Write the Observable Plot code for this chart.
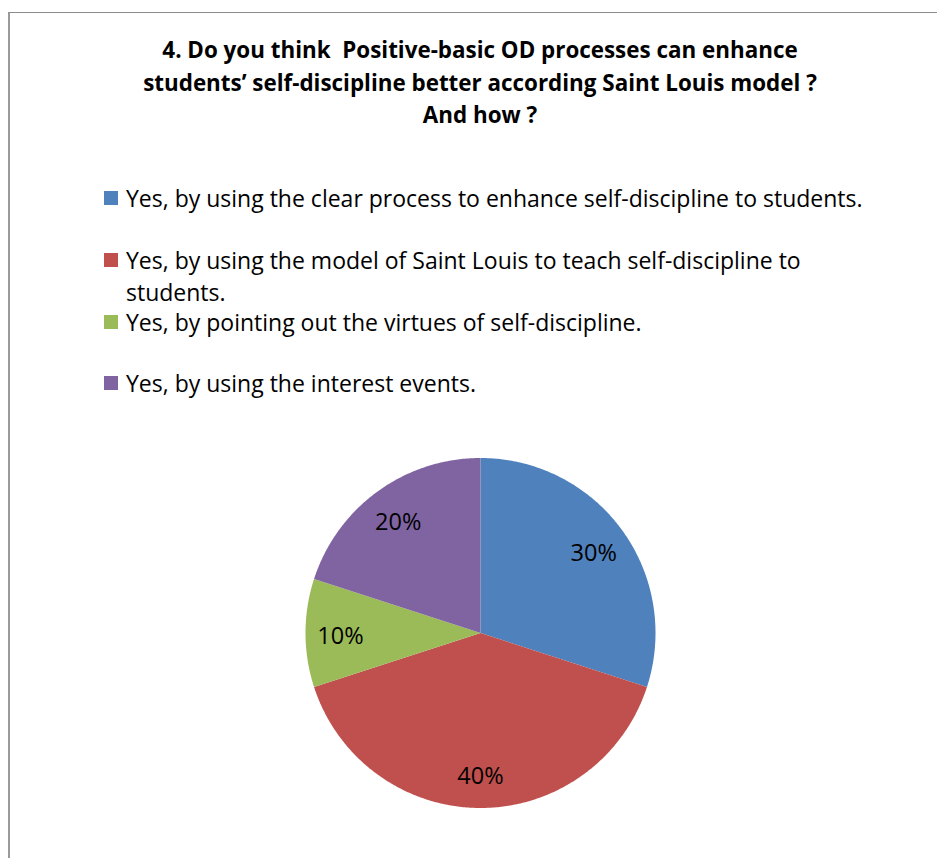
<!DOCTYPE html>
<html>
<head>
<meta charset="utf-8">
<script src="https://cdn.jsdelivr.net/npm/d3@7"></script>
<script src="https://cdn.jsdelivr.net/npm/@observablehq/plot@0.6"></script>
<style>
  html, body { margin: 0; padding: 0; background: #fff; overflow: hidden; }
  #page { position: relative; width: 937px; height: 858px; font-family: "Open Sans", sans-serif; color: #000; }
  #frame { position: absolute; left: 8px; top: 12px; width: 1000px; height: 900px;
           border-top: 1px solid #8c8c8c; border-left: 2px solid #9a9a9a; }
  #title { position: absolute; left: 80px; width: 800px; top: 34px; text-align: center;
           font-weight: 700; font-size: 22.4px; line-height: 32.5px; white-space: nowrap; }
  .item { position: absolute; left: 104px; width: 820px; font-size: 23px; line-height: 32px; }
  .sw { position: absolute; left: 0; top: 9px; width: 14px; height: 14px; }
  .lab { position: absolute; left: 22px; white-space: nowrap; }
  #chart { position: absolute; left: 0; top: 440px; }
</style>
</head>
<body>
<div id="page">
  <div id="frame"></div>
  <div id="title"></div>
  <div id="legend"></div>
  <div id="chart"></div>
</div>
<script>
const titleLines = [
  "4. Do you think\u00a0 Positive-basic OD processes can enhance",
  "students\u2019 self-discipline better according Saint Louis model ?",
  "And how ?"
];
const categories = [
  "Yes, by using the clear process to enhance self-discipline to students.",
  "Yes, by using the model of Saint Louis to teach self-discipline to students.",
  "Yes, by pointing out the virtues of self-discipline.",
  "Yes, by using the interest events."
];
// legend label lines (second item wraps in the reference)
const legendLines = [
  ["Yes, by using the clear process to enhance self-discipline to students."],
  ["Yes, by using the model of Saint Louis to teach self-discipline to", "students."],
  ["Yes, by pointing out the virtues of self-discipline."],
  ["Yes, by using the interest events."]
];
const values = [30, 40, 10, 20];
const labels = ["30%", "40%", "10%", "20%"];
const colors = ["#4F81BD", "#C0504D", "#9BBB59", "#8064A2"];

// Title
document.getElementById("title").innerHTML = titleLines.map(t => `<div>${t}</div>`).join("");

// Legend
const legendTops = [182, 244, 306, 367];
const legend = document.getElementById("legend");
legendLines.forEach((lines, i) => {
  const d = document.createElement("div");
  d.className = "item";
  d.style.top = legendTops[i] + "px";
  d.innerHTML = `<div class="sw" style="background:${colors[i]}"></div>` +
    `<div class="lab">${lines.join("<br>")}</div>`;
  legend.appendChild(d);
});

// Pie geometry via d3.pie, in unit coordinates (y pointing down)
const pie = d3.pie().sort(null).value(d => d)(values);
function pt(a, r) { return [r * Math.sin(a), -r * Math.cos(a)]; }
const slices = pie.map((p, i) => {
  const ring = [[0, 0]];
  const n = Math.max(4, Math.ceil((p.endAngle - p.startAngle) / 0.01));
  for (let k = 0; k <= n; k++) {
    ring.push(pt(p.startAngle + (p.endAngle - p.startAngle) * k / n, 1));
  }
  ring.push([0, 0]);
  return { type: "Feature", properties: { i, color: colors[i] }, geometry: { type: "Polygon", coordinates: [ring] } };
});
const circle = { type: "Polygon", coordinates: [d3.range(0, 361).map(k => pt(k * Math.PI / 180, 1))] };
const labelData = pie.map((p, i) => {
  const [x, y] = pt((p.startAngle + p.endAngle) / 2, 0.8);
  return { x, y, text: labels[i] };
});

const chart = Plot.plot({
  width: 937,
  height: 400,
  marginLeft: 305,
  marginRight: 282,
  marginTop: 17.5,
  marginBottom: 32.5,
  projection: { type: "identity", domain: circle },
  marks: [
    Plot.geo(slices, { fill: d => d.properties.color, stroke: "none" }),
    Plot.text(labelData, { x: "x", y: "y", text: "text", fontSize: 23.5, fill: "#000",
      fontFamily: "Open Sans", textAnchor: "middle", dy: 3 })
  ]
});
chart.style.fontFamily = "Open Sans";
document.getElementById("chart").appendChild(chart);
</script>
</body>
</html>
